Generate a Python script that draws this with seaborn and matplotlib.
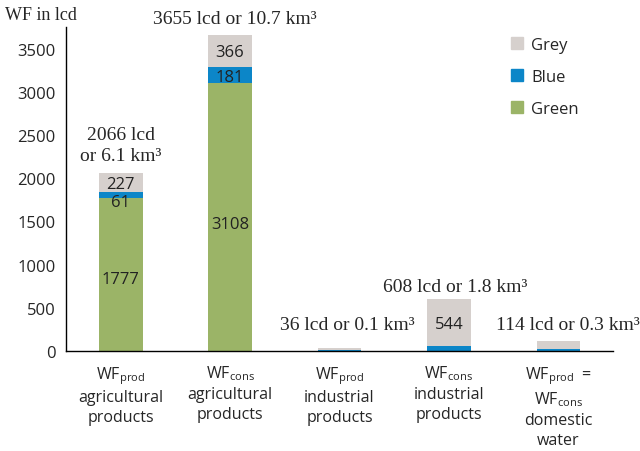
import numpy as np
import pandas as pd
import matplotlib
matplotlib.use('Agg')
import matplotlib.pyplot as plt
import seaborn as sns
from matplotlib.patches import Patch

sns.set_style('white')
plt.rcParams.update({
    'font.family': ['Open Sans', 'DejaVu Sans'],
    'axes.spines.top': False,
    'axes.spines.right': False,
})

# Data (litres per capita per day)
categories = ['ag_prod', 'ag_cons', 'ind_prod', 'ind_cons', 'dom']
tick_labels = [
    'WF$_\\mathregular{prod}$\nagricultural\nproducts',
    'WF$_\\mathregular{cons}$\nagricultural\nproducts',
    'WF$_\\mathregular{prod}$\nindustrial\nproducts',
    'WF$_\\mathregular{cons}$\nindustrial\nproducts',
    'WF$_\\mathregular{prod}$  =\nWF$_\\mathregular{cons}$\ndomestic\nwater',
]
green = [1777, 3108, 0, 0, 0]
blue = [61, 181, 8, 64, 25]
grey = [227, 366, 28, 544, 89]
totals_text = ['2066 lcd\nor 6.1 km³', '3655 lcd or 10.7 km³',
               '36 lcd or 0.1 km³', '608 lcd or 1.8 km³',
               '114 lcd or 0.3 km³']

df = pd.DataFrame({'cat': categories, 'green': green, 'blue': blue, 'grey': grey})
df['gb'] = df['green'] + df['blue']
df['total'] = df['gb'] + df['grey']

c_grey = '#D6D0CD'
c_blue = '#0C86C8'
c_green = '#9BB467'

fig = plt.figure(figsize=(6.4, 4.52), dpi=100)
ax = fig.add_axes([0.103, 0.221, 0.855, 0.717])

# stacked bars: draw cumulative totals back to front
for col, c in [('total', c_grey), ('gb', c_blue), ('green', c_green)]:
    sns.barplot(data=df, x='cat', y=col, color=c, width=0.4, ax=ax,
                saturation=1, linewidth=0)

ax.set_xlim(-0.5, 4.5)
ax.set_ylim(0, 3750)
ax.set_yticks(np.arange(0, 3501, 500))
ax.set_xlabel('')
ax.set_ylabel('')
ax.set_xticks(range(5))
ax.set_xticklabels(tick_labels, fontsize=11.5, va='top', linespacing=1.3)
ax.set_xticks(np.arange(-0.5, 4.6, 1), minor=True)
ax.tick_params(axis='x', which='major', length=0, pad=9)
ax.tick_params(axis='x', which='minor', length=5, direction='out', width=1, color='black')
ax.tick_params(axis='y', length=4, direction='out', width=1, color='black', labelsize=12)
for s in ['left', 'bottom']:
    ax.spines[s].set_color('black')
    ax.spines[s].set_linewidth(1)

# segment labels
seg = [(0, 1935, '227'), (0, 1725, '61'), (0, 840, '1777'),
       (1, 3465, '366'), (1, 3175, '181'), (1, 1475, '3108'),
       (3, 313, '544')]
for i, y, t in seg:
    ax.text(i, y, t, ha='center', va='center', fontsize=12, color='#222222')

# totals
serif = ['Liberation Serif', 'DejaVu Serif']
tot_pos = [(0, 2390), (1.04, 3847), (2.07, 313), (3.06, 753), (4.09, 313)]
for (x, y), t in zip(tot_pos, totals_text):
    ax.text(x, y, t, ha='center', va='center', fontsize=14, family=serif,
            linespacing=1.3, clip_on=False)

fig.text(0.008, 0.966, 'WF in lcd', fontsize=13, family=serif, va='center')

handles = [Patch(color=c_grey, label='Grey'), Patch(color=c_blue, label='Blue'),
           Patch(color=c_green, label='Green')]
ax.legend(handles=handles, loc='upper right', bbox_to_anchor=(0.965, 1.015), frameon=False,
          fontsize=12, handlelength=0.7, handleheight=0.7, labelspacing=0.95,
          handletextpad=0.5)

fig.savefig('out.png', dpi=100)
